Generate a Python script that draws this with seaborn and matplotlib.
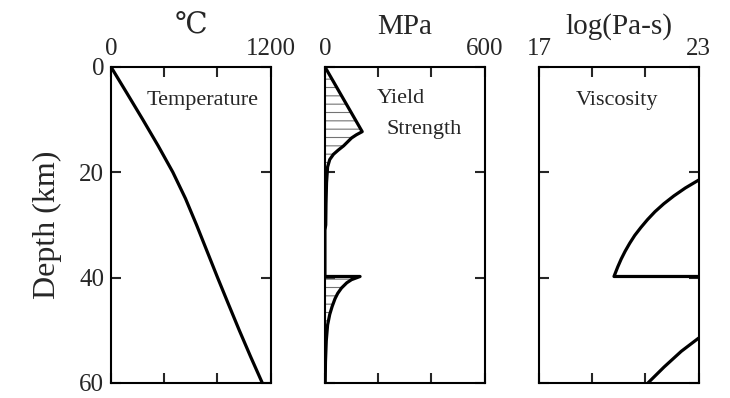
import matplotlib
matplotlib.use("Agg")
import matplotlib.pyplot as plt
import seaborn as sns
import numpy as np

# Temperature profile (deg C vs depth km)
temp_depth = [0, 5, 10, 15, 20, 25, 30, 35, 40, 45, 50, 55, 60]
temp_c = [0, 120, 239, 355, 465, 560, 643, 722, 801, 882, 964, 1049, 1137]

# Yield strength profile (MPa vs depth km)
ys_depth = [0, 12.3, 12.9, 13.5, 14.2, 15.0, 15.8, 16.6, 17.6, 19, 22, 26, 30, 31,
            39.8, 39.8, 40.4, 41, 42, 43, 44, 45.5, 47, 49, 52, 56, 60]
ys_mpa = [0, 140, 118, 100, 86, 70, 50, 32, 18, 10, 6, 4, 3, 0,
          0, 132, 100, 82, 62, 48, 38, 27, 18, 10, 5, 2, 1]

# Viscosity profile, log10(Pa s), clipped at 23
visc_upper_depth = [21.5, 23, 24.5, 26, 27.5, 29, 30.5, 32, 33.5, 35, 36.5, 38, 39.8, 39.8]
visc_upper = [23.0, 22.5, 22.07, 21.69, 21.36, 21.08, 20.83, 20.6, 20.41, 20.24,
              20.09, 19.96, 19.82, 23.0]
visc_lower_depth = [51.5, 54, 57, 60]
visc_lower = [23, 22.35, 21.7, 21.1]

titles = ["\u2103", "MPa", "log(Pa-s)"]
xlims = [(0, 1200), (0, 600), (17, 23)]

sns.set_style("ticks")
plt.rcParams['font.family'] = ['Liberation Serif', 'DejaVu Serif']
plt.rcParams['hatch.color'] = '0.45'
plt.rcParams['hatch.linewidth'] = 0.8

fig, axes = plt.subplots(1, 3, figsize=(7.3, 3.98), dpi=100, sharey=True)
fig.subplots_adjust(left=0.152, right=0.957, bottom=0.038, top=0.832, wspace=0.34)

line_kw = dict(color='black', linewidth=2.3, sort=False, estimator=None, legend=False)

ax = axes[0]
sns.lineplot(x=temp_c, y=temp_depth, ax=ax, **line_kw)
ax.text(689, 6.3, "Temperature", ha='center', va='center', fontsize=16)

ax = axes[1]
ax.fill_betweenx(ys_depth, 0, ys_mpa, facecolor='none', edgecolor='0.45',
                 hatch='--', linewidth=0)
sns.lineplot(x=ys_mpa, y=ys_depth, ax=ax, **line_kw)
ax.text(286, 6.0, "Yield", ha='center', va='center', fontsize=16)
ax.text(374, 11.8, "Strength", ha='center', va='center', fontsize=16)

ax = axes[2]
sns.lineplot(x=visc_upper, y=visc_upper_depth, ax=ax, **line_kw)
sns.lineplot(x=visc_lower, y=visc_lower_depth, ax=ax, **line_kw)
ax.text(19.94, 6.3, "Viscosity", ha='center', va='center', fontsize=16)

for i, ax in enumerate(axes):
    lo, hi = xlims[i]
    ax.set_xlim(lo, hi)
    ax.set_ylim(60, 0)
    ticks = np.linspace(lo, hi, 4)
    ax.set_xticks(ticks)
    ax.set_xticklabels([f"{lo:g}", "", "", f"{hi:g}"])
    ax.set_yticks([0, 20, 40, 60])
    ax.tick_params(axis='x', top=True, bottom=True, labeltop=True, labelbottom=False,
                   direction='in', length=7, width=1.5, pad=5, labelsize=18)
    ax.tick_params(axis='y', left=True, right=True, labelleft=(i == 0),
                   direction='in', length=7, width=1.5, pad=5, labelsize=18)
    for s in ax.spines.values():
        s.set_visible(True)
        s.set_linewidth(1.5)
        s.set_color('black')
    ax.set_xlabel("")
    ax.set_ylabel("")
    ax.set_title(titles[i], y=1.0, pad=24, fontsize=21)

axes[0].set_ylabel("Depth (km)", fontsize=23, labelpad=12)

fig.savefig("out.png", dpi=100)
